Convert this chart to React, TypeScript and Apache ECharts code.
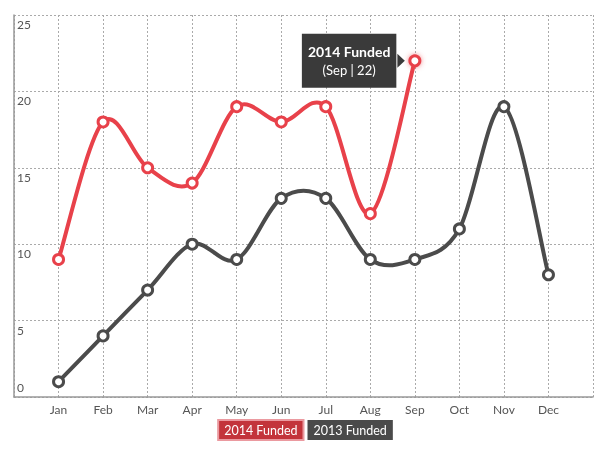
import React, { useEffect, useRef } from "react";
import * as echarts from "echarts";

const months = ["Jan", "Feb", "Mar", "Apr", "May", "Jun", "Jul", "Aug", "Sep", "Oct", "Nov", "Dec"];
const funded2014 = [9, 18, 15, 14, 19, 18, 19, 12, 22];
const funded2013 = [1, 4, 7, 10, 9, 13, 13, 9, 9, 11, 19, 8];
const yTicks = [0, 5, 10, 15, 20, 25];

const RED = "#e8414a";
const DARK = "#4b4b4b";
const FONT = "'Lato', sans-serif";

function splineSeries(name: string, values: number[], color: string, z: number) {
  const pts = values.map((v, i) => [i + 1, v]);
  return {
    name,
    type: "custom",
    z,
    silent: true,
    data: pts,
    renderItem: (params: any, api: any) => {
      const i = params.dataIndex;
      if (i >= pts.length - 1) return null;
      const P = (k: number) => api.coord(pts[Math.max(0, Math.min(pts.length - 1, k))]);
      const p0 = P(i - 1), p1 = P(i), p2 = P(i + 1), p3 = P(i + 2);
      const t = 1 / 6;
      return {
        type: "bezierCurve",
        shape: {
          x1: p1[0], y1: p1[1],
          cpx1: p1[0] + (p2[0] - p0[0]) * t, cpy1: p1[1] + (p2[1] - p0[1]) * t,
          cpx2: p2[0] - (p3[0] - p1[0]) * t, cpy2: p2[1] - (p3[1] - p1[1]) * t,
          x2: p2[0], y2: p2[1],
        },
        style: { stroke: color, lineWidth: 4, fill: "none", lineCap: "round" },
      };
    },
  };
}

export default function App() {
  const ref = useRef<HTMLDivElement>(null);
  useEffect(() => {
    const chart = echarts.init(ref.current!, null, { renderer: "svg" });
    const hi = 8; // Sep highlighted point
    const d2014 = funded2014.map((v, i) => {
      const item: any = { value: [i + 1, v] };
      if (i === hi) {
        item.itemStyle = { shadowBlur: 5, shadowColor: "rgba(232,65,74,0.6)" };
        item.label = {
          show: true,
          position: "left",
          distance: 12,
          backgroundColor: "#3a3a3a",
          padding: [8, 6, 8, 6],
          lineHeight: 19,
          color: "#fff",
          fontFamily: FONT,
          formatter: () => `{t|2014 Funded}\n{s|(${months[i]} | ${v})}`,
          rich: {
            t: { fontWeight: "bold", fontSize: 14, color: "#fff", fontFamily: FONT, align: "center", lineHeight: 19 },
            s: { fontSize: 13, color: "#fff", fontFamily: FONT, align: "center", lineHeight: 19 },
          },
        };
      }
      return item;
    });
    const d2013 = funded2013.map((v, i) => [i + 1, v]);

    chart.setOption({
      animation: false,
      grid: { left: 14, right: 14, top: 15, bottom: 61, containLabel: false },
      xAxis: {
        type: "value",
        min: 0,
        max: 13,
        interval: 1,
        axisLine: { show: true, lineStyle: { color: "#999", width: 1.5 } },
        axisTick: { show: false },
        axisLabel: {
          color: "#555",
          fontSize: 12,
          fontFamily: FONT,
          margin: 6,
          formatter: (v: number) => (v >= 1 && v <= 12 ? months[v - 1] : ""),
        },
        splitLine: { show: true, lineStyle: { color: "#aaa", type: [2, 2], width: 1 } },
      },
      yAxis: {
        type: "value",
        min: yTicks[0],
        max: yTicks[yTicks.length - 1],
        interval: 5,
        axisLine: { show: true, lineStyle: { color: "#999", width: 1.5 } },
        axisTick: { show: false },
        axisLabel: {
          inside: true,
          color: "#555",
          fontSize: 12,
          fontFamily: FONT,
          margin: 3,
          verticalAlign: "middle",
          formatter: (v: number) => (v === 0 ? `{z|${v}}` : `{n|${v}}`),
          rich: {
            n: { padding: [19, 0, 0, 0], color: "#555", fontSize: 12, fontFamily: FONT },
            z: { padding: [0, 0, 19, 0], color: "#555", fontSize: 12, fontFamily: FONT },
          },
        },
        splitLine: { show: true, lineStyle: { color: "#aaa", type: [2, 2], width: 1 } },
      },
      legend: {
        bottom: 12,
        left: "center",
        icon: "none",
        itemWidth: 0,
        itemHeight: 0,
        itemGap: -2,
        selectedMode: false,
        data: [
          {
            name: "2014 Funded",
            textStyle: {
              color: "#fff",
              fontSize: 12.5,
              fontFamily: FONT,
              backgroundColor: "#c3343b",
              borderColor: "#eb9aa0",
              borderWidth: 2,
              padding: [3, 5, 2, 5],
            },
          },
          {
            name: "2013 Funded",
            textStyle: {
              color: "#fff",
              fontSize: 12.5,
              fontFamily: FONT,
              backgroundColor: "#4a4a4a",
              padding: [4, 6, 3, 6],
            },
          },
        ],
      },
      series: [
        splineSeries("2014 Funded", funded2014, RED, 3),
        splineSeries("2013 Funded", funded2013, DARK, 2),
        {
          name: "2014 Funded",
          type: "line",
          data: d2014,
          symbol: "circle",
          symbolSize: 10,
          z: 5,
          lineStyle: { width: 0, opacity: 0 },
          itemStyle: { color: "#fff", borderColor: RED, borderWidth: 3 },
          color: RED,
        },
        {
          name: "2013 Funded",
          type: "line",
          data: d2013,
          symbol: "circle",
          symbolSize: 10,
          z: 4,
          lineStyle: { width: 0, opacity: 0 },
          itemStyle: { color: "#fff", borderColor: DARK, borderWidth: 3 },
          color: DARK,
        },
      ],
    });

    const p = chart.convertToPixel({ gridIndex: 0 }, [hi + 1, funded2014[hi]]) as number[];
    if (p) {
      const tipX = p[0] - 10;
      const baseX = p[0] - 17.5;
      chart.setOption({
        graphic: [
          {
            type: "polygon",
            shape: { points: [[baseX, p[1] - 7], [tipX, p[1]], [baseX, p[1] + 7]] },
            style: { fill: "#3a3a3a" },
            z: 100,
          },
        ],
      });
    }

    return () => chart.dispose();
  }, []);
  return <div ref={ref} style={{ position: "fixed", left: 0, top: 0, width: 607, height: 458 }} />;
}
